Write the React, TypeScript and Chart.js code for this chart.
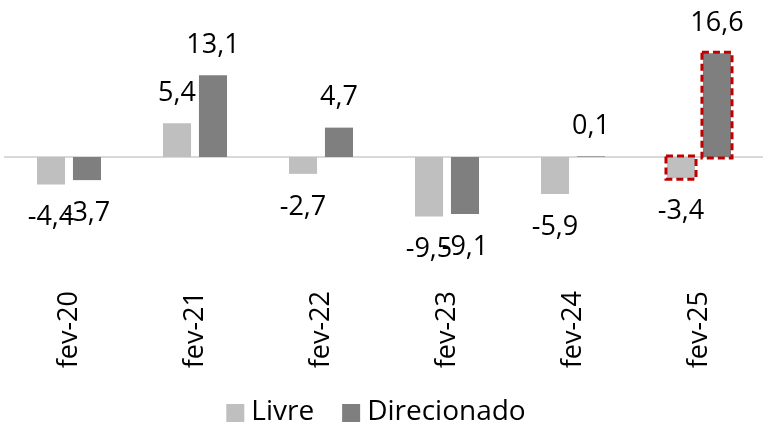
import React, { useEffect, useRef } from "react";
import { Chart, registerables } from "chart.js";

Chart.register(...registerables);

const categories = ["fev-20", "fev-21", "fev-22", "fev-23", "fev-24", "fev-25"];
const livre = [-4.4, 5.4, -2.7, -9.5, -5.9, -3.4];
const direcionado = [-3.7, 13.1, 4.7, -9.1, 0.1, 16.6];
const highlightIndex = 5;

const FONT = "'Open Sans', 'Noto Sans', sans-serif";

const fmt = (v: number) => v.toFixed(1).replace(".", ",");

const overlayPlugin = {
  id: "overlay",
  beforeDatasetsDraw(chart: any) {
    const { ctx, chartArea, scales } = chart;
    const y0 = scales.y.getPixelForValue(0);
    ctx.save();
    ctx.strokeStyle = "#D9D9D9";
    ctx.lineWidth = 2;
    ctx.beginPath();
    ctx.moveTo(chartArea.left - 2, y0);
    ctx.lineTo(chartArea.right + 1, y0);
    ctx.stroke();
    ctx.restore();
  },
  afterDatasetsDraw(chart: any) {
    const { ctx } = chart;
    ctx.save();
    chart.data.datasets.forEach((ds: any, di: number) => {
      const meta = chart.getDatasetMeta(di);
      meta.data.forEach((bar: any, i: number) => {
        const v = ds.data[i] as number;
        const props = bar.getProps(["x", "y", "base", "width"], true);
        const top = Math.min(props.y, props.base);
        const bottom = Math.max(props.y, props.base);
        if (i === highlightIndex) {
          ctx.strokeStyle = "#C00000";
          ctx.lineWidth = 3;
          ctx.setLineDash([7, 4]);
          ctx.strokeRect(props.x - props.width / 2 - 1, top - 1, props.width + 2, bottom - top + 2);
          ctx.setLineDash([]);
        }
        ctx.fillStyle = "#000000";
        ctx.font = `27px ${FONT}`;
        ctx.textAlign = "center";
        ctx.textBaseline = "middle";
        const ty = v >= 0 ? props.y - 30 : props.y + 33;
        ctx.fillText(fmt(v), props.x, ty);
      });
    });
    ctx.restore();
  },
  afterDraw(chart: any) {
    const { ctx, chartArea } = chart;
    ctx.save();
    ctx.font = `28px ${FONT}`;
    ctx.textBaseline = "middle";
    ctx.textAlign = "left";
    const box = 18;
    const gapText = 7;
    const gapItem = 28;
    const items = chart.data.datasets.map((ds: any) => ({
      label: ds.label as string,
      color: ds.backgroundColor as string,
      w: ctx.measureText(ds.label).width,
    }));
    const total = items.reduce((s: number, it: any) => s + box + gapText + it.w, 0) + gapItem * (items.length - 1);
    const cx = (chartArea.left + chartArea.right) / 2 - 8;
    let x = cx - total / 2;
    const yc = 412;
    items.forEach((it: any) => {
      ctx.fillStyle = it.color;
      ctx.fillRect(x, yc - box / 2 + 1, box, box);
      x += box + gapText;
      ctx.fillStyle = "#000000";
      ctx.fillText(it.label, x, yc);
      x += it.w + gapItem;
    });
    ctx.restore();
  },
};

export default function App() {
  const ref = useRef<HTMLCanvasElement | null>(null);
  useEffect(() => {
    if (!ref.current) return;
    const chart = new Chart(ref.current, {
      type: "bar",
      data: {
        labels: categories,
        datasets: [
          {
            label: "Livre",
            data: livre,
            backgroundColor: "#BFBFBF",
            categoryPercentage: 0.571,
            barPercentage: 0.78,
          },
          {
            label: "Direcionado",
            data: direcionado,
            backgroundColor: "#7F7F7F",
            categoryPercentage: 0.571,
            barPercentage: 0.78,
          },
        ],
      },
      options: {
        animation: false,
        responsive: true,
        maintainAspectRatio: false,
        layout: { padding: { top: 32, left: 6, right: 1, bottom: 30 } },
        scales: {
          x: {
            grid: { display: false },
            border: { display: false },
            ticks: {
              minRotation: 90,
              maxRotation: 90,
              color: "#000000",
              font: { size: 27, family: FONT },
              padding: 1,
            },
            afterFit(scale: any) {
              scale.height = 112;
            },
          },
          y: {
            display: false,
            min: -20,
            max: 20,
          },
        },
        plugins: {
          legend: { display: false },
          tooltip: { enabled: false },
        },
      },
      plugins: [overlayPlugin],
    });
    return () => chart.destroy();
  }, []);
  return (
    <div style={{ position: "absolute", left: 0, top: 0, width: 763, height: 424 }}>
      <canvas ref={ref} />
    </div>
  );
}
